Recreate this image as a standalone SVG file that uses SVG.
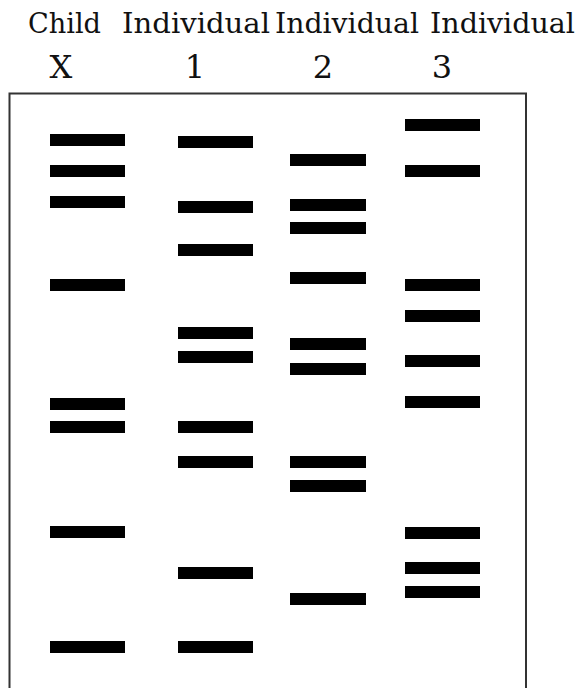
<svg xmlns="http://www.w3.org/2000/svg" width="577" height="688" viewBox="0 0 577 688">
<style>
.t{font-family:"DejaVu Serif","Liberation Serif",serif;fill:#111}
.h{font-size:27px}
.n{font-size:32px}
.b{fill:#000}
</style>
<rect width="577" height="688" fill="#fff"/>
<g id="labels">
<text class="t h" x="28" y="33" textLength="73" lengthAdjust="spacingAndGlyphs">Child</text>
<text class="t h" x="122" y="33" textLength="148" lengthAdjust="spacingAndGlyphs">Individual</text>
<text class="t h" x="275" y="33" textLength="144" lengthAdjust="spacingAndGlyphs">Individual</text>
<text class="t h" x="430" y="33" textLength="145" lengthAdjust="spacingAndGlyphs">Individual</text>
<text class="t n" x="61" y="78" text-anchor="middle">X</text>
<text class="t n" x="195" y="78" text-anchor="middle">1</text>
<text class="t n" x="323" y="78" text-anchor="middle">2</text>
<text class="t n" x="442" y="78" text-anchor="middle">3</text>
</g>
<g id="gel">
<rect x="9.5" y="93.5" width="516.5" height="610" fill="none" stroke="#333" stroke-width="2"/>
</g>
<g id="laneX" class="b">
<rect x="50" y="134" width="75" height="12"/>
<rect x="50" y="165" width="75" height="12"/>
<rect x="50" y="196" width="75" height="12"/>
<rect x="50" y="279" width="75" height="12"/>
<rect x="50" y="398" width="75" height="12"/>
<rect x="50" y="421" width="75" height="12"/>
<rect x="50" y="526" width="75" height="12"/>
<rect x="50" y="641" width="75" height="12"/>
</g>
<g id="lane1" class="b">
<rect x="178" y="136" width="75" height="12"/>
<rect x="178" y="201" width="75" height="12"/>
<rect x="178" y="244" width="75" height="12"/>
<rect x="178" y="327" width="75" height="12"/>
<rect x="178" y="351" width="75" height="12"/>
<rect x="178" y="421" width="75" height="12"/>
<rect x="178" y="456" width="75" height="12"/>
<rect x="178" y="567" width="75" height="12"/>
<rect x="178" y="641" width="75" height="12"/>
</g>
<g id="lane2" class="b">
<rect x="290" y="154" width="76" height="12"/>
<rect x="290" y="199" width="76" height="12"/>
<rect x="290" y="222" width="76" height="12"/>
<rect x="290" y="272" width="76" height="12"/>
<rect x="290" y="338" width="76" height="12"/>
<rect x="290" y="363" width="76" height="12"/>
<rect x="290" y="456" width="76" height="12"/>
<rect x="290" y="480" width="76" height="12"/>
<rect x="290" y="593" width="76" height="12"/>
</g>
<g id="lane3" class="b">
<rect x="405" y="119" width="75" height="12"/>
<rect x="405" y="165" width="75" height="12"/>
<rect x="405" y="279" width="75" height="12"/>
<rect x="405" y="310" width="75" height="12"/>
<rect x="405" y="355" width="75" height="12"/>
<rect x="405" y="396" width="75" height="12"/>
<rect x="405" y="527" width="75" height="12"/>
<rect x="405" y="562" width="75" height="12"/>
<rect x="405" y="586" width="75" height="12"/>
</g>
<g id="connectors"/>
</svg>
